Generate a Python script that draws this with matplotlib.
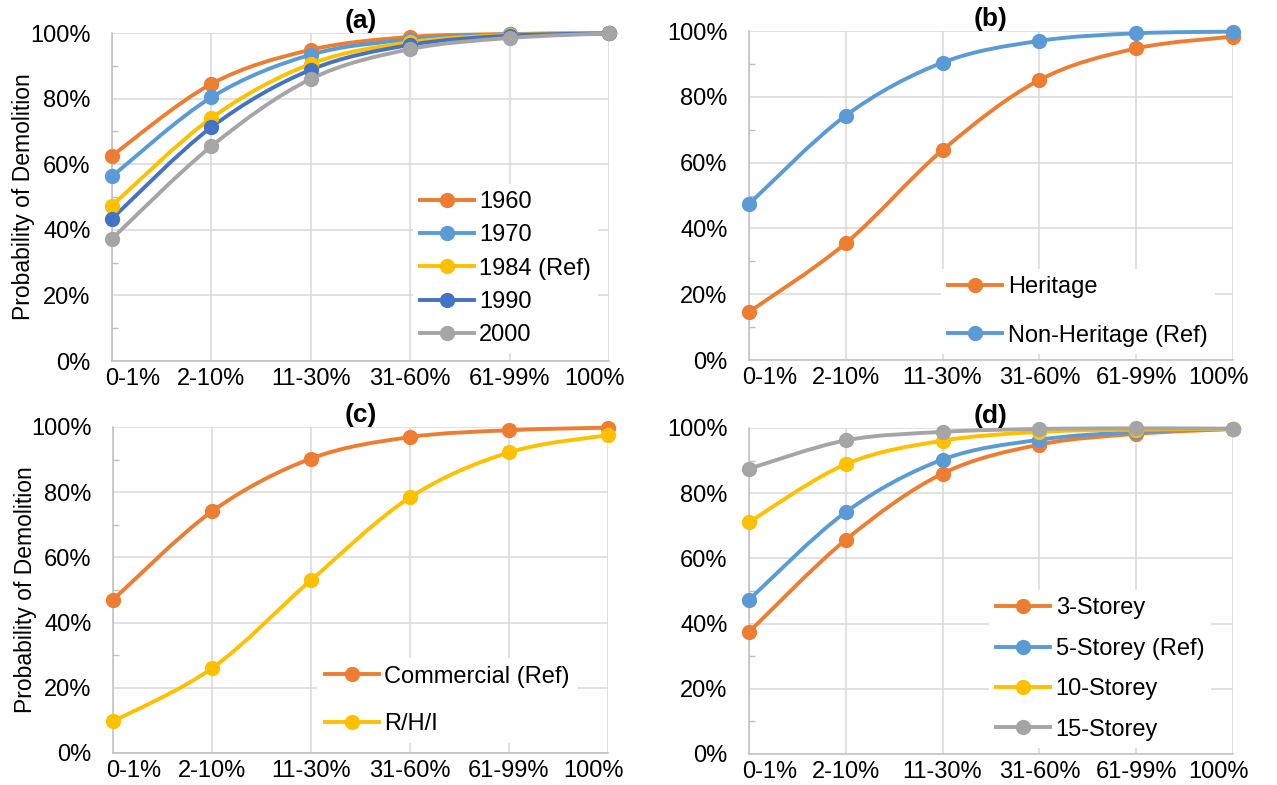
import numpy as np
import matplotlib
matplotlib.use('Agg')
import matplotlib.pyplot as plt
from matplotlib.path import Path
from matplotlib.patches import PathPatch
from matplotlib.lines import Line2D
from matplotlib.ticker import FuncFormatter, MultipleLocator
from matplotlib.transforms import ScaledTranslation

plt.rcParams['font.family'] = ['Liberation Sans', 'DejaVu Sans']

# ==========================================
# data (percent)
# ==========================================
categories = ['0-1%', '2-10%', '11-30%', '31-60%', '61-99%', '100%']

# (a) year of construction
a_labels = ['1960', '1970', '1984 (Ref)', '1990', '2000']
a_1960 = [62.6, 84.5, 94.9, 98.8, 99.7, 99.9]
a_1970 = [56.3, 80.4, 93.4, 98.0, 99.6, 99.9]
a_1984 = [47.4, 74.1, 90.6, 97.2, 99.4, 99.9]
a_1990 = [43.4, 71.3, 88.8, 96.4, 99.2, 99.9]
a_2000 = [37.3, 65.5, 86.0, 95.1, 98.5, 99.9]

# (b) heritage
b_labels = ['Heritage', 'Non-Heritage (Ref)']
b_heritage = [14.6, 35.5, 63.8, 85.1, 94.7, 98.3]
b_nonheritage = [47.4, 74.3, 90.4, 97.0, 99.3, 99.8]

# (c) use
c_labels = ['Commercial (Ref)', 'R/H/I']
c_commercial = [47.0, 74.1, 90.3, 96.9, 99.0, 99.8]
c_rhi = [9.7, 26.0, 53.0, 78.4, 92.2, 97.5]

# (d) storeys
d_labels = ['3-Storey', '5-Storey (Ref)', '10-Storey', '15-Storey']
d_3 = [37.4, 65.7, 86.0, 94.9, 98.2, 99.7]
d_5 = [47.3, 74.2, 90.3, 96.4, 98.8, 99.7]
d_10 = [71.1, 88.9, 96.1, 98.8, 99.5, 99.7]
d_15 = [87.5, 96.2, 98.8, 99.7, 99.9, 99.8]

ORANGE = '#ED7D31'
LBLUE = '#5B9BD5'
GOLD = '#FFC000'
DBLUE = '#4472C4'
GRAY = '#A5A5A5'

FS = 17


def smooth_path(xs, ys):
    # excel style smoothed line (catmull-rom as cubic bezier)
    pts = np.column_stack([xs, ys]).astype(float)
    n = len(pts)
    verts = [pts[0]]
    codes = [Path.MOVETO]
    for i in range(n - 1):
        p0 = pts[i - 1] if i > 0 else pts[i]
        p1 = pts[i]
        p2 = pts[i + 1]
        p3 = pts[i + 2] if i + 2 < n else pts[i + 1]
        verts += [p1 + (p2 - p0) / 6, p2 - (p3 - p1) / 6, p2]
        codes += [Path.CURVE4] * 3
    return Path(verts, codes)


def draw_panel(ax, title, series, labels, colors, leg_anchor, leg_spacing, ylabel=False):
    x = np.arange(len(categories))
    for ys, col in zip(series, colors):
        ax.add_patch(PathPatch(smooth_path(x, ys), fill=False, edgecolor=col,
                               lw=2.8, clip_on=False, zorder=3, capstyle='round'))
        ax.plot(x, ys, 'o', color=col, ms=10, clip_on=False, zorder=4)

    ax.set_xlim(0, len(categories) - 1)
    ax.set_ylim(0, 100)
    ax.set_xticks(x)
    ax.set_xticklabels(categories)
    ax.yaxis.set_major_locator(MultipleLocator(20))
    ax.yaxis.set_minor_locator(MultipleLocator(10))
    ax.yaxis.set_major_formatter(FuncFormatter(lambda v, p: f'{v:.0f}%'))
    ax.grid(True, which='major', color='#D9D9D9', lw=1.1)
    ax.set_axisbelow(True)
    ax.tick_params(axis='both', which='major', length=0, labelsize=FS, colors='#000000')
    ax.tick_params(axis='y', which='major', pad=15.5)
    ax.tick_params(axis='x', which='major', pad=5)
    ax.tick_params(axis='y', which='minor', direction='in', length=4.5, color='#BFBFBF', width=1)
    for s in ['top', 'right']:
        ax.spines[s].set_visible(False)
    for s in ['left', 'bottom']:
        ax.spines[s].set_color('#BFBFBF')
        ax.spines[s].set_linewidth(1.1)

    # excel keeps the end labels inside the chart area
    xl = ax.get_xticklabels()
    xl[0].set_ha('left')
    xl[0].set_transform(xl[0].get_transform() + ScaledTranslation(-0.07, 0, fig.dpi_scale_trans))
    xl[-1].set_ha('right')
    xl[-1].set_transform(xl[-1].get_transform() + ScaledTranslation(0.16, 0, fig.dpi_scale_trans))

    ax.set_title(title, fontsize=19, fontweight='bold', pad=0)
    if ylabel:
        ax.set_ylabel('Probability of Demolition', fontsize=16.5)
        ax.yaxis.set_label_coords(-0.154, 0.5)

    handles = [Line2D([], [], color=c, lw=2.8, marker='o', ms=10) for c in colors]
    leg = ax.legend(handles, labels, loc='upper left', bbox_to_anchor=leg_anchor,
                    borderaxespad=0, borderpad=0.3, fontsize=17, handlelength=2.3,
                    handletextpad=0.22, labelspacing=leg_spacing, frameon=True,
                    facecolor='white', edgecolor='none', framealpha=1, fancybox=False)
    leg.set_zorder(5)


fig = plt.figure(figsize=(12.77, 7.85), dpi=100)
ax_a = fig.add_axes([0.0877, 0.5401, 0.3892, 0.4178])
ax_b = fig.add_axes([0.5865, 0.5414, 0.3790, 0.4191])
ax_c = fig.add_axes([0.0885, 0.0408, 0.3876, 0.4153])
ax_d = fig.add_axes([0.5865, 0.0395, 0.3790, 0.4153])

draw_panel(ax_a, '(a)', [a_1960, a_1970, a_1984, a_1990, a_2000], a_labels,
           [ORANGE, LBLUE, GOLD, DBLUE, GRAY], (0.605, 0.540), 0.48, ylabel=True)
draw_panel(ax_b, '(b)', [b_heritage, b_nonheritage], b_labels,
           [ORANGE, LBLUE], (0.397, 0.276), 1.12)
draw_panel(ax_c, '(c)', [c_commercial, c_rhi], c_labels,
           [ORANGE, GOLD], (0.413, 0.290), 1.10, ylabel=True)
draw_panel(ax_d, '(d)', [d_3, d_5, d_10, d_15], d_labels,
           [ORANGE, LBLUE, GOLD, GRAY], (0.496, 0.502), 0.78)

fig.savefig('out.png', dpi=100)
